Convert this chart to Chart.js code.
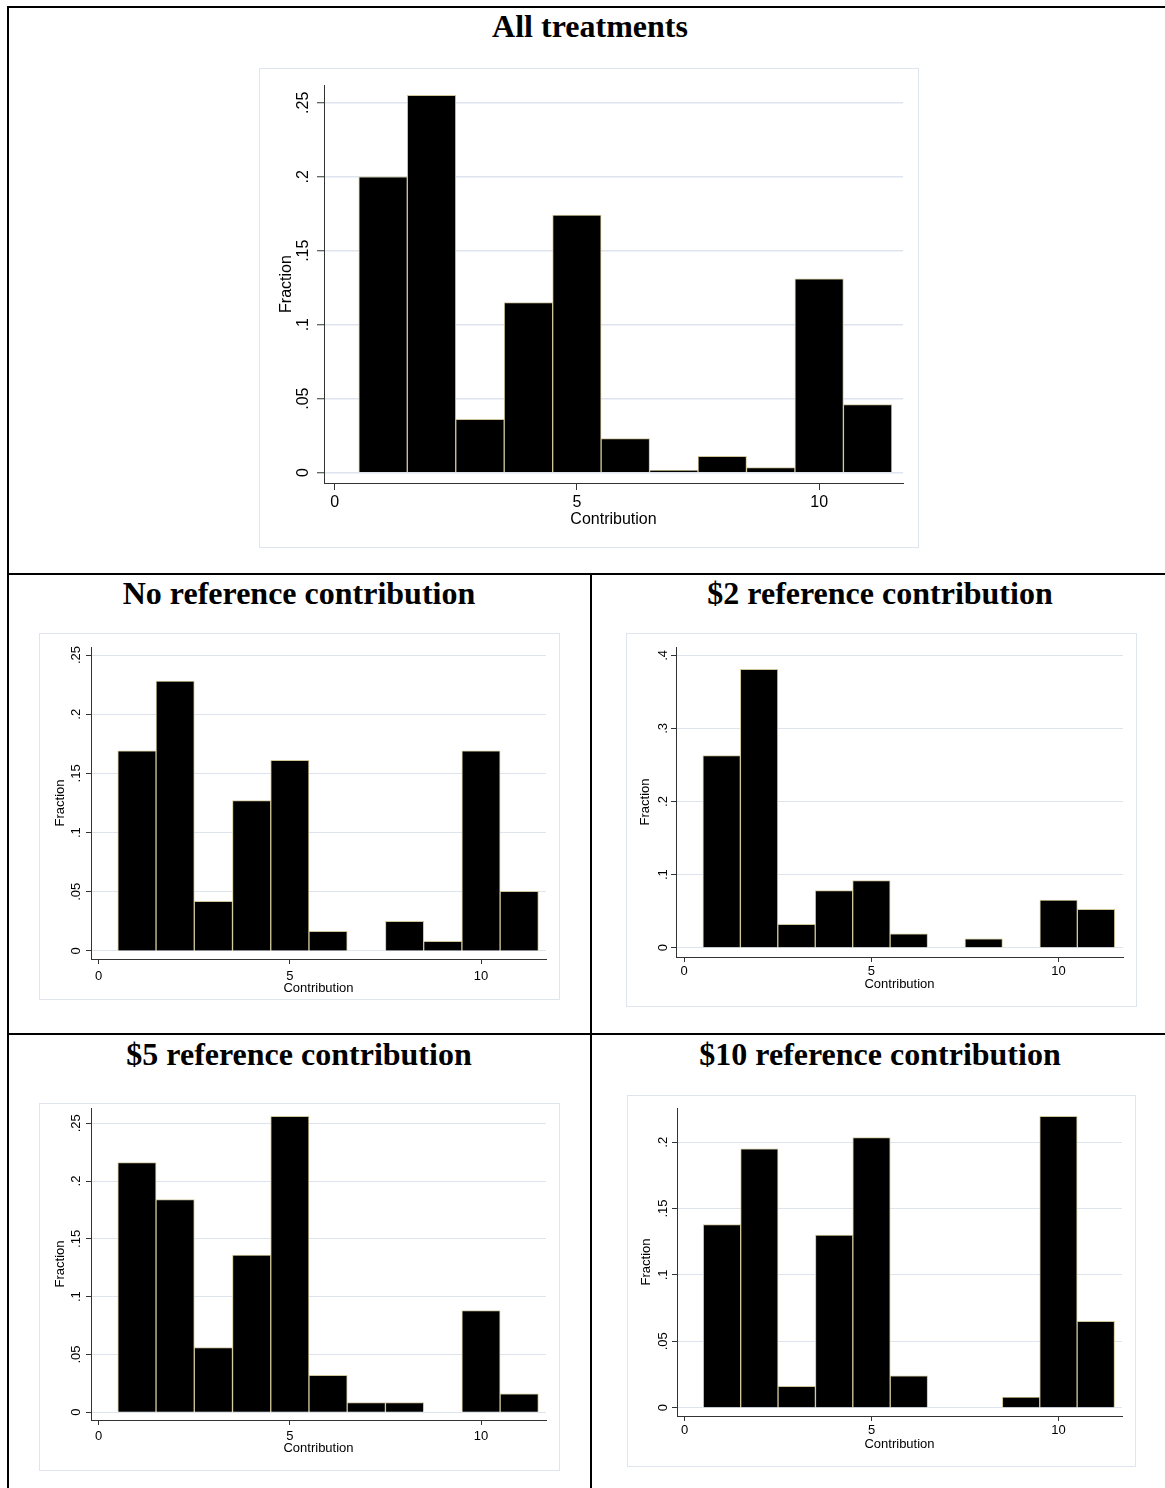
<!DOCTYPE html>
<html><head><meta charset="utf-8">
<script src="https://cdn.jsdelivr.net/npm/chart.js@4.4.1/dist/chart.umd.min.js"></script>
<style>
html,body{margin:0;padding:0;background:#fff;}
body{width:1165px;height:1488px;position:relative;overflow:hidden;}
.line{position:absolute;background:#000;}
.title{position:absolute;font-family:'Liberation Serif','Times New Roman',serif;font-weight:bold;font-size:32px;line-height:32px;text-align:center;color:#000;white-space:nowrap;}
.panel{position:absolute;box-sizing:border-box;border:1px solid #dfe5ef;pointer-events:none;z-index:2;}
canvas{position:absolute;z-index:1;}
</style></head><body>
<div class="line" style="left:7px;top:6px;width:1170px;height:2px"></div>
<div class="line" style="left:7px;top:6px;width:2px;height:1490px"></div>
<div class="line" style="left:7px;top:573px;width:1170px;height:2px"></div>
<div class="line" style="left:7px;top:1033px;width:1170px;height:2px"></div>
<div class="line" style="left:590px;top:573px;width:2px;height:920px"></div>

<div class="title" style="left:7px;width:1166px;top:10px">All treatments</div>
<div class="title" style="left:8px;width:582px;top:577px">No reference contribution</div>
<div class="title" style="left:592px;width:576px;top:577px">$2 reference contribution</div>
<div class="title" style="left:8px;width:582px;top:1038px">$5 reference contribution</div>
<div class="title" style="left:592px;width:576px;top:1038px">$10 reference contribution</div>

<canvas id="cAll" width="660" height="480" style="left:259px;top:68px"></canvas>
<canvas id="cNone" width="521" height="367" style="left:39px;top:633px"></canvas>
<canvas id="cTwo" width="511" height="374" style="left:626px;top:633px"></canvas>
<canvas id="cFive" width="521" height="368" style="left:39px;top:1103px"></canvas>
<canvas id="cTen" width="509" height="372" style="left:627px;top:1095px"></canvas>

<div class="panel" style="left:259px;top:68px;width:660px;height:480px"></div>
<div class="panel" style="left:39px;top:633px;width:521px;height:367px"></div>
<div class="panel" style="left:626px;top:633px;width:511px;height:374px"></div>
<div class="panel" style="left:39px;top:1103px;width:521px;height:368px"></div>
<div class="panel" style="left:627px;top:1095px;width:509px;height:372px"></div>

<script>
// ---- data ----
const bins = [1, 2, 3, 4, 5, 6, 7, 8, 9, 10, 11];
const fractionAll  = [0.200, 0.255, 0.036, 0.115, 0.174, 0.023, 0.0016, 0.011, 0.0034, 0.131, 0.046];
const fractionNone = [0.169, 0.228, 0.042, 0.127, 0.161, 0.0166, 0, 0.025, 0.0082, 0.169, 0.0504];
const fractionTwo  = [0.263, 0.381, 0.032, 0.078, 0.092, 0.019, 0, 0.0123, 0, 0.065, 0.0525];
const fractionFive = [0.216, 0.184, 0.056, 0.136, 0.256, 0.032, 0.0084, 0.0084, 0, 0.088, 0.016];
const fractionTen  = [0.138, 0.195, 0.016, 0.130, 0.2035, 0.024, 0, 0, 0.008, 0.2196, 0.065];

const xTickValues = [0, 5, 10];
const xTickLabels = ['0', '5', '10'];
const yTicksQuarter = [0, 0.05, 0.1, 0.15, 0.2, 0.25];
const yLabelsQuarter = ['0', '.05', '.1', '.15', '.2', '.25'];
const yTicksTwo = [0, 0.1, 0.2, 0.3, 0.4];
const yLabelsTwo = ['0', '.1', '.2', '.3', '.4'];
const yTicksTen = [0, 0.05, 0.1, 0.15, 0.2];
const yLabelsTen = ['0', '.05', '.1', '.15', '.2'];
const xTitle = 'Contribution';
const yTitle = 'Fraction';

const FAMILY = "'Liberation Sans', Arial, Helvetica, sans-serif";

function zeroPad(s) { s.paddingLeft = 0; s.paddingRight = 0; s.paddingTop = 0; s.paddingBottom = 0; }

function makeChart(id, values, yTicks, yLabels, c) {
  new Chart(document.getElementById(id), {
    type: 'bar',
    data: {
      datasets: [{
        data: bins.map((b, i) => ({ x: b, y: values[i] })),
        backgroundColor: '#000000',
        borderColor: '#cfc69a',
        borderWidth: 1,
        borderSkipped: 'start',
        barPercentage: 1,
        categoryPercentage: 1,
        grouped: false
      }]
    },
    options: {
      responsive: false,
      animation: false,
      devicePixelRatio: 1,
      layout: { padding: { left: c.padL, right: c.padR, top: c.padT, bottom: c.padB } },
      plugins: { legend: { display: false }, tooltip: { enabled: false }, title: { display: false } },
      scales: {
        x: {
          type: 'linear', min: c.xmin, max: c.xmax, offset: false,
          afterBuildTicks: s => { s.ticks = xTickValues.map(v => ({ value: v })); },
          afterFit: s => { s.height = c.xH; zeroPad(s); },
          grid: { offset: false, drawOnChartArea: false, drawTicks: true, tickLength: c.tl, tickColor: '#333', tickWidth: 1 },
          border: { display: true, color: '#333', width: 1 },
          ticks: { autoSkip: false, minRotation: 0, maxRotation: 0, padding: c.xTickPad, color: '#000',
                   font: { family: FAMILY, size: c.font }, callback: (v, i) => xTickLabels[i] },
          title: { display: true, text: xTitle, color: '#000', font: { family: FAMILY, size: c.font }, padding: { top: 0, bottom: 0 } }
        },
        y: {
          type: 'linear', min: c.ymin, max: c.ymax,
          afterBuildTicks: s => { s.ticks = yTicks.map(v => ({ value: v })); },
          afterFit: s => { s.width = c.yW; zeroPad(s); },
          grid: { drawOnChartArea: true, color: '#dde4ee', lineWidth: c.gridW, drawTicks: true, tickLength: c.tl, tickColor: '#333', tickWidth: 1 },
          border: { display: true, color: '#333', width: 1 },
          ticks: { autoSkip: false, minRotation: 90, maxRotation: 90, crossAlign: 'center', padding: c.yTickPad, color: '#000',
                   font: { family: FAMILY, size: c.font }, callback: (v, i) => yLabels[i] },
          title: { display: true, text: yTitle, color: '#000', font: { family: FAMILY, size: c.font }, padding: { top: c.yTitlePad, bottom: 0 } }
        }
      }
    }
  });
}

makeChart('cAll', fractionAll, yTicksQuarter, yLabelsQuarter,
  { padL: 15, padR: 16, padT: 17, padB: 19, yW: 50, xH: 46, tl: 7, font: 16, xTickPad: 3, yTickPad: 2, yTitlePad: 3, gridW: 1.5,
    xmin: -0.219, xmax: 11.73, ymin: -0.007, ymax: 0.262 });
makeChart('cNone', fractionNone, yTicksQuarter, yLabelsQuarter,
  { padL: 12, padR: 14, padT: 14, padB: 4, yW: 40, xH: 37, tl: 5, font: 13, xTickPad: 4.5, yTickPad: 0.5, yTitlePad: 2, gridW: 1,
    xmin: -0.2015, xmax: 11.70, ymin: -0.0068, ymax: 0.2568 });
makeChart('cTwo', fractionTwo, yTicksTwo, yLabelsTwo,
  { padL: 10, padR: 14, padT: 14, padB: 15, yW: 40, xH: 35, tl: 5, font: 13, xTickPad: 2, yTickPad: 2.3, yTitlePad: 2, gridW: 1,
    xmin: -0.219, xmax: 11.72, ymin: -0.0127, ymax: 0.4114 });
makeChart('cFive', fractionFive, yTicksQuarter, yLabelsQuarter,
  { padL: 12, padR: 14, padT: 5, padB: 15, yW: 40, xH: 36, tl: 5, font: 13, xTickPad: 4, yTickPad: 0.5, yTitlePad: 2, gridW: 1,
    xmin: -0.2015, xmax: 11.70, ymin: -0.0067, ymax: 0.2632 });
makeChart('cTen', fractionTen, yTicksTen, yLabelsTen,
  { padL: 10, padR: 14, padT: 13, padB: 15, yW: 40, xH: 36, tl: 5, font: 13, xTickPad: 2, yTickPad: 0, yTitlePad: 2, gridW: 1,
    xmin: -0.203, xmax: 11.70, ymin: -0.0063, ymax: 0.2258 });
</script>
</body></html>
